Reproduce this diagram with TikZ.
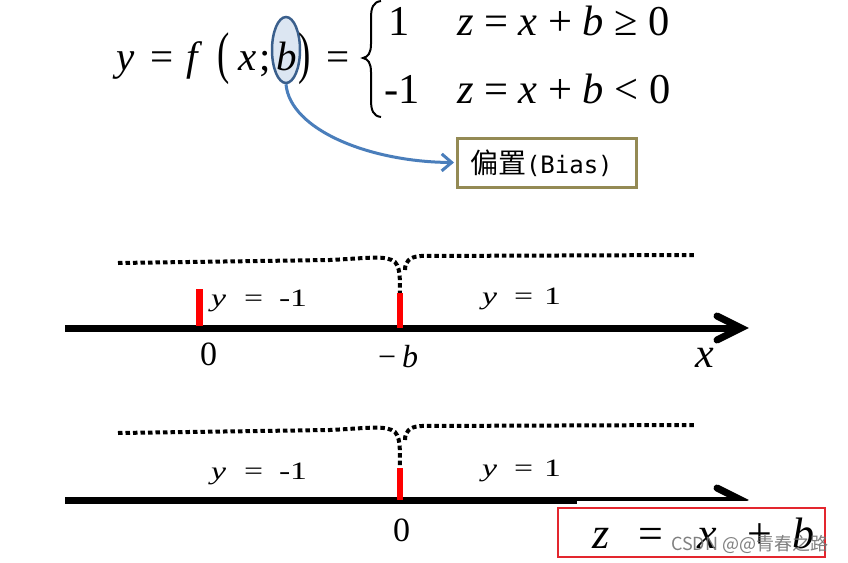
\documentclass[tikz,border=0pt]{standalone}
\usepackage{fontspec}
\setmainfont{Liberation Serif}
\newfontfamily\cjk{Noto Sans CJK SC}
\newfontfamily\monofnt{DejaVu Sans Mono}
\usetikzlibrary{arrows.meta,shapes.geometric}
\definecolor{arrblue}{HTML}{4A7EBB}
\definecolor{elfill}{HTML}{DCE6F2}
\definecolor{eldraw}{HTML}{3A5F8C}
\definecolor{olivebox}{HTML}{948A54}
\definecolor{redbox}{HTML}{E3262E}
\definecolor{tickred}{HTML}{FF0000}
\newcommand{\fsz}[1]{\fontsize{#1}{#1}\selectfont}
\newcommand{\wide}[1]{\scalebox{1.35}[1]{#1}}
\newcommand{\tallp}[1]{\scalebox{0.9}[1.4]{#1}}
\begin{document}
\begin{tikzpicture}[x=1pt,y=-1pt,
  txt/.style={inner sep=0pt, outer sep=0pt, anchor=base west},
  big/.style={txt, font=\fsz{41}},
  rowtxt/.style={txt, font=\fsz{42.5}},
  lbl/.style={txt, font=\fsz{25}},
  num/.style={txt, font=\fsz{34}},
  zbig/.style={txt, font=\fsz{44}},
  dotline/.style={line width=4pt, dash pattern=on 4.5pt off 3pt},
  axisline/.style={line width=7pt},
  chevron/.style={line width=7pt, line cap=round, line join=miter},
]
\useasboundingbox (0,0) rectangle (848,562);
\fill[white] (0,0) rectangle (848,562);

% ---------- formula ----------
\node[ellipse, draw=eldraw, fill=elfill, line width=2.5pt, minimum width=28pt, minimum height=66pt, inner sep=0pt] (bell) at (286,50) {};
\node[big] (fy) at (116,70) {\itshape y};
\node[big] (feqa) at (150,70) {=};
\node[big] (ff) at (186,70) {\itshape f};
\node[big] (lp) at (217,72) {\tallp{(}};
\node[big] (fx) at (238,70) {\itshape x};
\node[big] (semi) at (259,70) {;};
\node[big] (fb) at (276,70) {\itshape b};
\node[big] (rp) at (298,72) {\tallp{)}};
\node[big] (feqb) at (326,70) {=};
\draw[line width=2pt] (381,1) .. controls (373,2) and (371,8) .. (371,18) -- (371,44)
  .. controls (371,53) and (368,57) .. (363,58)
  .. controls (368,59) and (371,63) .. (371,72) -- (371,100)
  .. controls (371,110) and (373,116) .. (381,117);
\node[rowtxt] (rowav) at (388,35) {1};
\node[rowtxt] (rowac) at (457,35) {{\itshape z} = {\itshape x} + {\itshape b} ≥ 0};
\node[rowtxt] (rowbv) at (384,103) {-1};
\node[rowtxt] (rowbc) at (457,103) {{\itshape z} = {\itshape x} + {\itshape b} < 0};

% ---------- bias box ----------
\node[draw=olivebox, line width=3pt, minimum width=179pt, minimum height=49pt, inner sep=0pt] (bias) at (547,162.5) {};
\node[txt] (biaslbl) at (470,173) {{\cjk\fsz{28}偏置}{\monofnt\fsz{24}(Bias)}};
\draw[arrblue, line width=3pt, -{Straight Barb[length=10pt,width=17pt]}, shorten >=2pt]
  (bell.south) .. controls (290,130) and (370,162) .. (bias.west);

% ---------- number line 1 ----------
\draw[dotline] (118,263) -- (330,260) .. controls (370,258) and (386,255) .. (395,262)
  .. controls (402,270) and (399,285) .. (400,300);
\draw[dotline] (405,270) .. controls (405,262) and (409,257) .. (420,256) -- (695,255);
\coordinate (aLs) at (65,328);
\coordinate (aLe) at (738,328);
\draw[axisline] (aLs) -- (aLe);
\draw[chevron] (717,316) -- (741,328) -- (717,340);
\fill[white] (192,331.5) rectangle (238,335);
\fill[tickred] (196,289) rectangle (203,326);
\fill[tickred] (397,293) rectangle (403,328);
\node[lbl] (la) at (211,306) {\wide{\itshape y}};
\node[lbl] (lb) at (244,306) {\wide{=}};
\node[lbl] (lc) at (279,306) {\wide{-1}};
\node[lbl] (ld) at (482,304) {\wide{\itshape y}};
\node[lbl] (le) at (514,304) {\wide{=}};
\node[lbl] (lf) at (544,304) {\wide{1}};
\node[num] (zeroa) at (200,365) {0};
\node[txt, font=\fsz{32}] (mb) at (378,367) {−\hspace{6pt}{\itshape b}};
\node[txt, font=\fsz{42}] (xl) at (695,367) {\itshape x};

% ---------- number line 2 ----------
\draw[dotline] (118,433) -- (330,430) .. controls (370,428) and (386,425) .. (395,432)
  .. controls (402,440) and (399,455) .. (400,472);
\draw[dotline] (405,440) .. controls (405,432) and (409,427) .. (420,426) -- (695,425);
\coordinate (bLs) at (65,500);
\coordinate (bLe) at (738,500);
\draw[axisline] (bLs) -- (bLe);
\draw[chevron] (717,488) -- (741,500) -- (717,512);
\fill[tickred] (397,468) rectangle (403,500);
\node[lbl] (ma) at (211,479) {\wide{\itshape y}};
\node[lbl] (mbb) at (244,479) {\wide{=}};
\node[lbl] (mc) at (279,479) {\wide{-1}};
\node[lbl] (md) at (482,476) {\wide{\itshape y}};
\node[lbl] (me) at (514,476) {\wide{=}};
\node[lbl] (mf) at (544,476) {\wide{1}};
\node[num] (zerob) at (393,541) {0};

% ---------- z = x + b box ----------
\fill[white] (577,500.8) rectangle (760,508);
\node[draw=redbox, fill=white, line width=2.5pt, minimum width=267pt, minimum height=49pt, inner sep=0pt] (zbox) at (691.5,532.5) {};
\node[zbig] (zz) at (592,548) {\itshape z};
\node[zbig] (zeq) at (638,548) {=};
\node[zbig] (zx) at (697,548) {\itshape x};
\node[zbig] (zp) at (747,548) {+};
\node[zbig] (zb) at (792,548) {\itshape b};
\node[anchor=west, inner sep=0pt, font=\cjk\fsz{18}, text=black!55, opacity=0.9] (wm) at (671,544) {CSDN @@青春之路};
\end{tikzpicture}
\end{document}
